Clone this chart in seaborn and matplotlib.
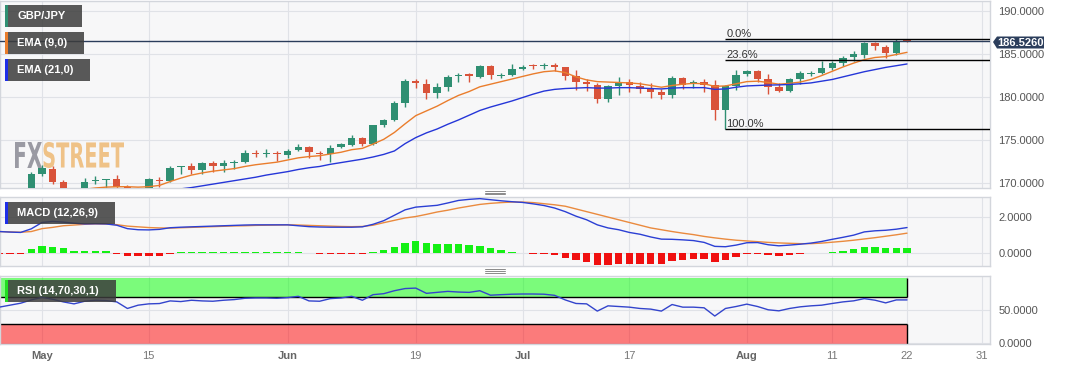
import numpy as np
import pandas as pd
import matplotlib.pyplot as plt
import seaborn as sns
from matplotlib.ticker import FormatStrFormatter
from matplotlib.patches import Rectangle, Polygon, PathPatch
from matplotlib.lines import Line2D
from matplotlib.textpath import TextPath
from matplotlib.font_manager import FontProperties
from matplotlib.transforms import Affine2D

W, H = 1067, 370

# daily GBP/JPY candles, 25 Apr - 22 Aug 2023 (trading days)
dates = pd.bdate_range("2023-04-25", "2023-08-22")

opens = [
    167.6, 167.4, 167.8, 168.2, 171.1, 171.7, 170.2, 169.0, 168.3, 170.3,
    170.35, 170.5, 169.6, 169.3, 168.9, 170.35, 170.3, 171.85, 172.05, 171.55,
    172.3, 171.95, 172.35, 172.5, 173.55, 173.4, 173.5, 173.3, 173.9, 174.2,
    173.55, 173.4, 174.25, 174.45, 175.2, 174.6, 176.8, 177.3, 179.35, 181.9,
    181.55, 180.5, 181.15, 182.45, 182.7, 182.3, 183.65, 182.5, 182.6, 183.3,
    183.65, 183.6, 183.75, 183.45, 182.5, 181.8, 181.4, 179.8, 181.3, 181.8,
    181.3, 181.0, 180.55, 180.25, 182.2, 181.55, 181.8, 181.4, 178.45, 181.3,
    182.7, 183.05, 182.1, 181.15, 180.7, 182.1, 182.7, 182.8, 183.4, 184.0,
    184.65, 184.9, 186.3, 185.85, 185.15, 186.55,
]
highs = [
    168.0, 168.0, 168.6, 171.3, 172.1, 171.95, 170.35, 169.3, 170.6, 170.85,
    170.45, 170.95, 169.75, 169.5, 170.6, 170.7, 172.0, 172.05, 172.4, 172.45,
    172.6, 172.65, 172.65, 173.85, 173.85, 174.0, 173.8, 174.0, 174.6, 174.3,
    173.8, 174.4, 174.7, 175.6, 175.4, 176.8, 177.5, 179.5, 182.1, 182.15,
    182.05, 181.6, 182.55, 182.85, 182.85, 183.7, 183.7, 182.85, 183.8, 183.7,
    183.9, 183.95, 183.95, 183.5, 183.1, 182.1, 181.6, 181.45, 182.3, 182.1,
    181.8, 181.6, 181.0, 182.5, 182.35, 182.0, 182.05, 182.0, 181.45, 183.15,
    183.2, 183.2, 182.7, 181.6, 182.2, 182.98, 183.0, 184.2, 184.2, 184.8,
    185.3, 186.45, 186.45, 186.0, 186.75, 186.75,
]
lows = [
    167.0, 166.9, 167.5, 167.9, 170.9, 169.9, 168.6, 167.9, 168.2, 169.9,
    169.5, 169.3, 168.9, 168.3, 168.7, 169.6, 170.1, 171.1, 171.1, 171.1,
    171.25, 171.3, 171.7, 172.3, 173.0, 173.0, 172.6, 172.95, 173.8, 172.9,
    172.7, 172.5, 174.1, 174.3, 174.3, 174.5, 176.5, 177.2, 178.8, 181.1,
    179.8, 179.9, 180.75, 181.8, 181.8, 182.2, 182.1, 182.2, 182.4, 183.2,
    183.3, 183.25, 183.05, 182.0, 180.85, 180.7, 179.35, 179.4, 180.25, 180.65,
    180.5, 179.85, 179.8, 179.85, 180.9, 181.1, 180.65, 177.35, 176.3, 180.85,
    182.5, 181.8, 180.4, 180.6, 180.55, 181.5, 182.4, 182.7, 183.1, 183.6,
    184.2, 184.5, 185.5, 184.5, 184.9, 186.4,
]
closes = [
    167.4, 167.8, 168.2, 171.1, 171.8, 170.1, 169.0, 168.3, 170.2, 170.4,
    170.4, 169.55, 169.4, 168.7, 170.45, 170.25, 171.8, 171.95, 171.55, 172.3,
    171.95, 172.4, 172.45, 173.55, 173.45, 173.5, 173.4, 173.75, 174.25, 173.6,
    173.45, 174.15, 174.55, 175.3, 174.6, 176.75, 177.35, 179.35, 181.85, 181.6,
    180.5, 181.15, 182.35, 182.55, 182.4, 183.6, 182.55, 182.6, 183.25, 183.55,
    183.6, 183.65, 183.55, 182.45, 181.7, 181.55, 179.8, 181.3, 181.7, 181.35,
    181.0, 180.65, 180.2, 182.2, 181.4, 181.8, 181.45, 178.45, 181.3, 182.55,
    183.05, 182.1, 181.15, 180.7, 182.1, 182.75, 182.8, 183.4, 184.0, 184.6,
    184.95, 186.3, 185.95, 185.15, 186.45, 186.526,
]
ema9 = [
    168.0, 168.0, 168.1, 168.6, 169.0, 169.2, 169.2, 169.1, 169.3, 169.45,
    169.55, 169.6, 169.6, 169.55, 169.6, 169.75, 170.2, 170.6, 170.95, 171.2,
    171.4, 171.55, 171.7, 171.95, 172.15, 172.3, 172.45, 172.7, 172.95, 173.1,
    173.2, 173.4, 173.6, 173.9, 174.05, 174.55, 175.1, 175.9, 176.9, 177.85,
    178.4, 178.95, 179.6, 180.2, 180.65, 181.2, 181.5, 181.8, 182.1, 182.4,
    182.7, 182.95, 183.05, 182.85, 182.35, 182.0, 181.8, 181.75, 181.7, 181.65,
    181.55, 181.35, 181.15, 181.35, 181.5, 181.6, 181.55, 181.25, 181.3, 181.55,
    181.8, 181.85, 181.7, 181.5, 181.6, 181.75, 182.05, 182.5, 183.0, 183.5,
    183.95, 184.35, 184.6, 184.7, 184.95, 185.2,
]
ema21 = [
    168.4, 168.5, 168.6, 168.7, 168.8, 168.85, 168.9, 168.95, 169.0, 169.0,
    169.05, 169.1, 169.1, 169.1, 169.15, 169.2, 169.25, 169.35, 169.5, 169.7,
    169.9, 170.1, 170.3, 170.5, 170.7, 170.95, 171.15, 171.35, 171.6, 171.8,
    171.95, 172.2, 172.4, 172.6, 172.8, 173.05, 173.35, 173.75, 174.6, 175.3,
    175.85, 176.3, 176.85, 177.35, 177.9, 178.45, 178.85, 179.2, 179.55, 179.95,
    180.35, 180.7, 180.9, 181.0, 181.05, 181.1, 181.05, 181.05, 181.1, 181.1,
    181.05, 181.0, 180.95, 181.05, 181.1, 181.1, 181.1, 180.9, 180.95, 181.15,
    181.3, 181.35, 181.4, 181.42, 181.47, 181.55, 181.65, 181.85, 182.05, 182.35,
    182.65, 182.95, 183.2, 183.45, 183.65, 183.85,
]
macd = [
    1.2, 1.17, 1.15, 1.35, 1.7, 1.76, 1.72, 1.66, 1.62, 1.63,
    1.62, 1.55, 1.36, 1.3, 1.29, 1.32, 1.41, 1.44, 1.46, 1.48,
    1.5, 1.52, 1.54, 1.56, 1.57, 1.57, 1.57, 1.57, 1.52, 1.47,
    1.45, 1.44, 1.44, 1.44, 1.46, 1.6, 1.8, 2.1, 2.4, 2.55,
    2.6, 2.65, 2.78, 2.92, 2.98, 3.02, 2.96, 2.9, 2.85, 2.81,
    2.73, 2.64, 2.5, 2.3, 2.05, 1.85, 1.57, 1.4, 1.3, 1.15,
    1.05, 0.9, 0.78, 0.77, 0.74, 0.7, 0.6, 0.38, 0.36, 0.45,
    0.58, 0.59, 0.47, 0.41, 0.45, 0.5, 0.56, 0.65, 0.77, 0.88,
    1.0, 1.18, 1.24, 1.27, 1.33, 1.42,
]
signal = [
    1.2, 1.18, 1.16, 1.2, 1.36, 1.43, 1.52, 1.56, 1.6, 1.62,
    1.61, 1.58, 1.5, 1.46, 1.42, 1.4, 1.39, 1.41, 1.43, 1.45,
    1.47, 1.49, 1.51, 1.52, 1.54, 1.55, 1.56, 1.57, 1.56, 1.54,
    1.52, 1.5, 1.48, 1.47, 1.48, 1.55, 1.69, 1.82, 1.95, 2.03,
    2.15, 2.28, 2.38, 2.5, 2.6, 2.7, 2.76, 2.8, 2.83, 2.83,
    2.8, 2.74, 2.68, 2.6, 2.45, 2.3, 2.15, 2.0, 1.85, 1.7,
    1.55, 1.4, 1.3, 1.2, 1.11, 1.03, 0.93, 0.85, 0.78, 0.72,
    0.68, 0.64, 0.6, 0.57, 0.55, 0.53, 0.53, 0.56, 0.61, 0.66,
    0.72, 0.79, 0.86, 0.94, 1.02, 1.11,
]
hist = [
    -0.02, -0.02, -0.02, 0.22, 0.41, 0.37, 0.28, 0.13, 0.13, 0.13,
    0.13, -0.02, -0.13, -0.18, -0.15, -0.13, -0.02, 0.05, 0.05, 0.05,
    0.05, 0.06, 0.06, 0.08, 0.08, 0.07, 0.06, 0.05, 0.05, 0.04,
    -0.04, -0.05, -0.05, -0.05, -0.04, 0.05, 0.18, 0.33, 0.56, 0.65,
    0.59, 0.52, 0.52, 0.5, 0.43, 0.41, 0.28, 0.17, 0.09, 0.04,
    -0.02, -0.04, -0.09, -0.24, -0.37, -0.46, -0.65, -0.65, -0.59, -0.59,
    -0.59, -0.59, -0.59, -0.43, -0.37, -0.32, -0.3, -0.46, -0.37, -0.19,
    -0.05, -0.05, -0.07, -0.13, -0.07, -0.04, -0.01, 0.04, 0.07, 0.15,
    0.22, 0.37, 0.37, 0.31, 0.31, 0.31,
]
rsi = [
    55, 58, 61, 66, 70, 67, 63, 60, 64, 65.5,
    65, 63, 53, 58, 60, 60.5, 64.5, 63.5, 65.5, 64.5,
    64, 65.5, 66.5, 68.5, 69, 69, 68.5, 69.5, 71.5, 64.5,
    64, 68, 69, 71.5, 65.5, 74, 75.5, 80, 83.3, 84,
    76, 77.5, 79, 78, 77.5, 80, 73.2, 74, 74.7, 75,
    75, 74.7, 73, 66, 60.6, 60, 49, 57, 56, 55,
    53, 52, 49, 59, 55, 55, 54, 41.5, 53, 56,
    59.6, 56, 51, 49.4, 53, 55.5, 57, 58, 60.6, 63,
    64.6, 68, 65.6, 61.5, 66, 66,
]

tick_dates = ["2023-05-01", "2023-05-15", "2023-06-01", "2023-06-19", "2023-07-03",
              "2023-07-17", "2023-08-01", "2023-08-11", "2023-08-22", "2023-08-31"]
tick_labels = ["May", "15", "Jun", "19", "Jul", "17", "Aug", "11", "22", "31"]
months = {"May", "Jun", "Jul", "Aug"}

fib_start = "2023-07-28"
fib_levels = [186.75, 184.28, 176.30]
fib_names = ["0.0%", "23.6%", "100.0%"]
last_price = 186.526

GREEN = "#2f8f72"
RED = "#d9533a"
ORANGE = "#ea7d2c"
BLUE = "#2536d8"
PANEL = "#f7f7f8"
GRID = "#e0e2e7"
EDGE = "#d3d6dc"
TXT = "#555555"

sns.set_theme(style="white")
plt.rcParams["font.family"] = ["Liberation Sans", "DejaVu Sans"]

day0 = np.datetime64("2023-05-01")
pos = np.busday_count(day0, dates.values.astype("datetime64[D]"))
tick_pos = np.busday_count(day0, np.array(tick_dates, dtype="datetime64[D]"))
fib_x = np.busday_count(day0, np.datetime64(fib_start))

df = pd.DataFrame({
    "pos": pos, "open": opens, "high": highs, "low": lows, "close": closes,
    "ema9": ema9, "ema21": ema21, "macd": macd, "signal": signal,
    "hist": hist, "rsi": rsi,
})

x_left, x_right = -3.93, 88.77

fig = plt.figure(figsize=(W / 100, H / 100), dpi=100)
fig.patch.set_facecolor("white")


def px_axes(top, bottom):
    return fig.add_axes([0, 1 - bottom / H, 990 / W, (bottom - top) / H])


ax_p = px_axes(1, 188)
ax_m = px_axes(197, 266)
ax_r = px_axes(276, 344)

# price panel
up = df["close"] >= df["open"]
cc = np.where(up, GREEN, RED)
ax_p.vlines(df["pos"], df["low"], df["high"], colors=cc, lw=1, zorder=2)
body = np.maximum((df["close"] - df["open"]).abs(), 0.1)
ax_p.bar(df["pos"], body, bottom=np.minimum(df["open"], df["close"]),
         width=0.7, color=cc, lw=0, zorder=3)
sns.lineplot(data=df, x="pos", y="ema9", ax=ax_p, color=ORANGE, lw=1, zorder=4)
sns.lineplot(data=df, x="pos", y="ema21", ax=ax_p, color=BLUE, lw=1, zorder=4)

for lvl, name in zip(fib_levels, fib_names):
    ax_p.hlines(lvl, fib_x, x_right, color="black", lw=1, zorder=5)
    ax_p.annotate(name, (fib_x, lvl), xytext=(0.5, 0.3), textcoords="offset points",
                  fontsize=8, color="#333333", va="bottom", ha="left", zorder=5)
ax_p.axhline(last_price, color="#2b3d5b", lw=1, zorder=6)
ax_p.set_ylim(169.45, 191.16)
ax_p.set_yticks([170, 175, 180, 185, 190])

# watermark
fp = FontProperties(family="DejaVu Sans", stretch="condensed", weight="bold")


def word(text, x0, y0, w, h, color):
    tp = TextPath((0, 0), text, size=10, prop=fp)
    ext = tp.get_extents()
    tr = (Affine2D().translate(-ext.x0, -ext.y0)
          .scale(w / ext.width / W, h / ext.height / H)
          .translate(x0 / W, 1 - (y0 + h) / H) + fig.transFigure)
    ax_p.add_patch(PathPatch(tp, transform=tr, facecolor=color, lw=0, zorder=1))


word("FX", 15, 142, 27, 26, "#9a9aa3")
word("STREET", 43.5, 142, 80.5, 26, "#efc287")

# MACD panel
bar_col = np.where(df["hist"] >= 0, "#14f014", "#f01010")
ax_m.bar(df["pos"], df["hist"], width=0.7, color=bar_col, lw=0, zorder=2)
sns.lineplot(data=df, x="pos", y="signal", ax=ax_m, color="#ea8a3e", lw=1, zorder=3)
sns.lineplot(data=df, x="pos", y="macd", ax=ax_m, color="#2b3fd4", lw=1, zorder=4)
ax_m.set_ylim(-0.706, 3.11)
ax_m.set_yticks([0, 2])

# RSI panel
last = pos[-1]
ax_r.fill_between([x_left, last], 70, 100, color="#00ff00", alpha=0.5, lw=0, zorder=1)
ax_r.fill_between([x_left, last], -1.1, 30, color="#ff0000", alpha=0.5, lw=0, zorder=1)
ax_r.hlines([70, 30], x_left, last, color="black", lw=1, zorder=2)
ax_r.vlines([last, last], [70, -1.1], [100, 30], color="black", lw=1, zorder=2)
sns.lineplot(data=df, x="pos", y="rsi", ax=ax_r, color="#3344cc", lw=1, zorder=3)
ax_r.set_ylim(-1.06, 102.4)
ax_r.set_yticks([0, 50])

for ax in (ax_p, ax_m, ax_r):
    ax.set_facecolor(PANEL)
    ax.set_axisbelow(True)
    ax.grid(True, color=GRID, lw=0.8)
    for s in ax.spines.values():
        s.set_color(EDGE)
        s.set_linewidth(1)
    ax.set_xlim(x_left, x_right)
    ax.set_xticks(tick_pos)
    ax.yaxis.tick_right()
    ax.yaxis.set_major_formatter(FormatStrFormatter("%.4f"))
    ax.tick_params(axis="y", length=0, pad=6, labelsize=8, labelcolor=TXT)
    ax.tick_params(axis="x", length=0, labelbottom=False)
    ax.set_xlabel("")
    ax.set_ylabel("")

ax_r.set_xticklabels(tick_labels)
ax_r.tick_params(axis="x", labelbottom=True, pad=5, labelsize=8, labelcolor="#777777")
for t in ax_r.get_xticklabels():
    if t.get_text() in months:
        t.set_fontweight("bold")
        t.set_color("#666666")


# indicator tags
def tag(x, y, w, h, text, strip):
    fig.add_artist(Rectangle((x / W, 1 - (y + h) / H), w / W, h / H, transform=fig.transFigure,
                             facecolor="#3c3c3c", alpha=0.85, lw=0))
    fig.add_artist(Rectangle((x / W, 1 - (y + h) / H), 3 / W, h / H, transform=fig.transFigure,
                             facecolor=strip, lw=0))
    fig.text((x + 12) / W, 1 - (y + h / 2) / H, text, color="white", fontsize=8,
             fontweight="bold", va="center", ha="left")


tag(5, 5, 77, 22, "GBP/JPY", GREEN)
tag(5, 32, 79, 22, "EMA (9,0)", ORANGE)
tag(5, 59, 85, 22, "EMA (21,0)", "#1e2ee8")
tag(5, 202, 110, 22, "MACD (12,26,9)", "#1e2ee8")
tag(5, 280, 111, 22, "RSI (14,70,30,1)", "#22dd22")

# last price flag
flag = [(993, 42), (997, 36.5), (1044, 36.5), (1044, 48.5), (997, 48.5)]
fig.add_artist(Polygon([(px / W, 1 - py / H) for px, py in flag], closed=True,
                       transform=fig.transFigure, facecolor="#2c3e5c", lw=0))
fig.text(1020.5 / W, 1 - 42.5 / H, f"{last_price:.4f}", color="white", fontsize=8,
         fontweight="bold", va="center", ha="center")

# panel resize handles
for yc in (192.7, 271):
    for dy in (-1.7, 0, 1.7):
        fig.add_artist(Line2D([485 / W, 505 / W], [1 - (yc + dy) / H] * 2,
                              transform=fig.transFigure, color="#8a8a8a", lw=0.7))

plt.savefig("out.png", dpi=100)
plt.close()
